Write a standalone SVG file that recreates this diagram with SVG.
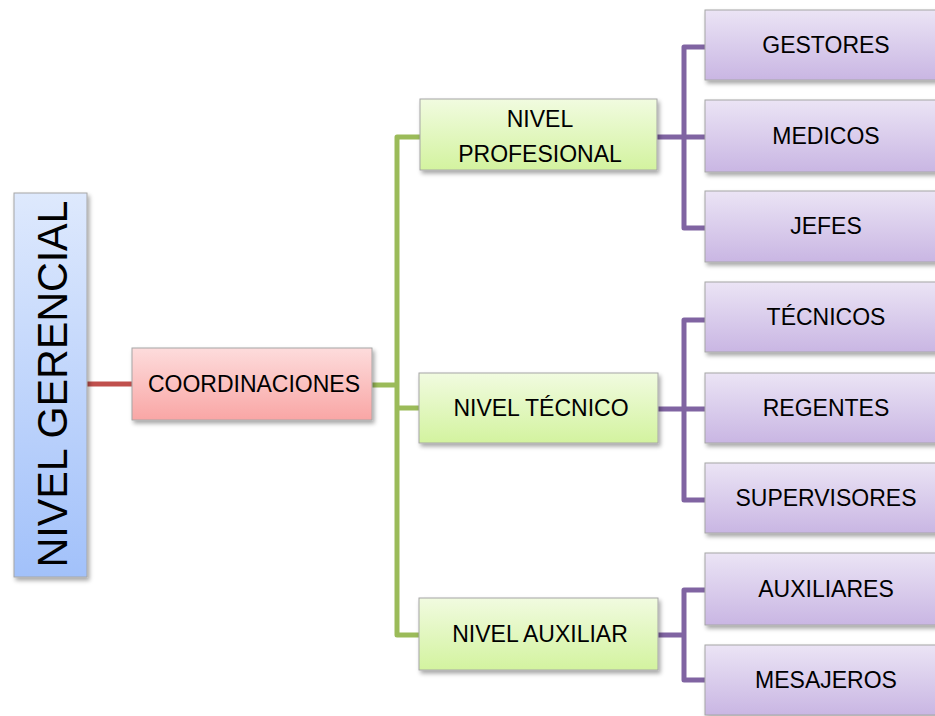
<svg xmlns="http://www.w3.org/2000/svg" width="935" height="716" viewBox="0 0 935 716">
<style>
.box{stroke:#a6a6a6;stroke-width:1;filter:url(#sh)}
.t{font-family:"Liberation Sans",Arial,sans-serif;font-size:23px;fill:#000;text-anchor:middle}
.conn{fill:none;stroke-width:5;stroke-linejoin:round;stroke-linecap:butt}
</style>
<defs>
<filter id="sh" x="-10%" y="-10%" width="130%" height="130%">
<feDropShadow dx="2" dy="3" stdDeviation="2" flood-color="#000" flood-opacity="0.35"/>
</filter>
<linearGradient id="gBlue" x1="0" y1="0" x2="0" y2="1">
<stop offset="0" stop-color="#dee9fd"/><stop offset="1" stop-color="#a2c1fa"/>
</linearGradient>
<linearGradient id="gRed" x1="0" y1="0" x2="0" y2="1">
<stop offset="0" stop-color="#fddcdc"/><stop offset="1" stop-color="#f9a6a5"/>
</linearGradient>
<linearGradient id="gGreen" x1="0" y1="0" x2="0" y2="1">
<stop offset="0" stop-color="#f1fbe0"/><stop offset="1" stop-color="#d3f39f"/>
</linearGradient>
<linearGradient id="gPurple" x1="0" y1="0" x2="0" y2="1">
<stop offset="0" stop-color="#ebe4f5"/><stop offset="1" stop-color="#c9b6e3"/>
</linearGradient>
</defs>
<rect width="935" height="716" fill="#fff"/>
<g id="connectors">
<path class="conn" stroke="#c0504d" d="M87,384 H132"/>
<path class="conn" stroke="#9bbb59" d="M372,385 H397 M420,137 H397 V635 H420 M397,408 H420"/>
<path class="conn" stroke="#8064a2" d="M657,137 H684 M705,47 H684 V228 H705 M684,137 H705"/>
<path class="conn" stroke="#8064a2" d="M658,409 H684 M705,320 H684 V500 H705 M684,409 H705"/>
<path class="conn" stroke="#8064a2" d="M658,635 H684 M705,590 H684 V680 H705"/>
</g>
<g id="nivel-gerencial">
<rect class="box" x="14" y="193" width="73" height="384" fill="url(#gBlue)"/>
<text class="t" transform="translate(67,384) rotate(-90)" x="0" y="0" style="font-size:43px" textLength="367" lengthAdjust="spacingAndGlyphs">NIVEL GERENCIAL</text>
</g>
<g id="coordinaciones">
<rect class="box" x="132" y="348" width="240" height="72" fill="url(#gRed)"/>
<text class="t" x="254" y="392">COORDINACIONES</text>
</g>
<g id="nivel-profesional">
<rect class="box" x="420" y="99" width="237" height="71" fill="url(#gGreen)"/>
<text class="t" x="540" y="127">NIVEL</text>
<text class="t" x="540" y="162">PROFESIONAL</text>
</g>
<g id="nivel-tecnico">
<rect class="box" x="419" y="373" width="239" height="70" fill="url(#gGreen)"/>
<text class="t" x="541" y="416">NIVEL TÉCNICO</text>
</g>
<g id="nivel-auxiliar">
<rect class="box" x="419" y="598" width="239" height="72" fill="url(#gGreen)"/>
<text class="t" x="540" y="642">NIVEL AUXILIAR</text>
</g>
<g id="gestores">
<rect class="box" x="705" y="10" width="242" height="70" fill="url(#gPurple)"/>
<text class="t" x="826" y="53">GESTORES</text>
</g>
<g id="medicos">
<rect class="box" x="705" y="100" width="242" height="72" fill="url(#gPurple)"/>
<text class="t" x="826" y="144">MEDICOS</text>
</g>
<g id="jefes">
<rect class="box" x="705" y="191" width="242" height="71" fill="url(#gPurple)"/>
<text class="t" x="826" y="234">JEFES</text>
</g>
<g id="tecnicos">
<rect class="box" x="705" y="282" width="242" height="70" fill="url(#gPurple)"/>
<text class="t" x="826" y="325">TÉCNICOS</text>
</g>
<g id="regentes">
<rect class="box" x="705" y="373" width="242" height="70" fill="url(#gPurple)"/>
<text class="t" x="826" y="416">REGENTES</text>
</g>
<g id="supervisores">
<rect class="box" x="705" y="463" width="242" height="70" fill="url(#gPurple)"/>
<text class="t" x="826" y="506">SUPERVISORES</text>
</g>
<g id="auxiliares">
<rect class="box" x="705" y="553" width="242" height="72" fill="url(#gPurple)"/>
<text class="t" x="826" y="597">AUXILIARES</text>
</g>
<g id="mesajeros">
<rect class="box" x="705" y="645" width="242" height="70" fill="url(#gPurple)"/>
<text class="t" x="826" y="688">MESAJEROS</text>
</g>
</svg>
